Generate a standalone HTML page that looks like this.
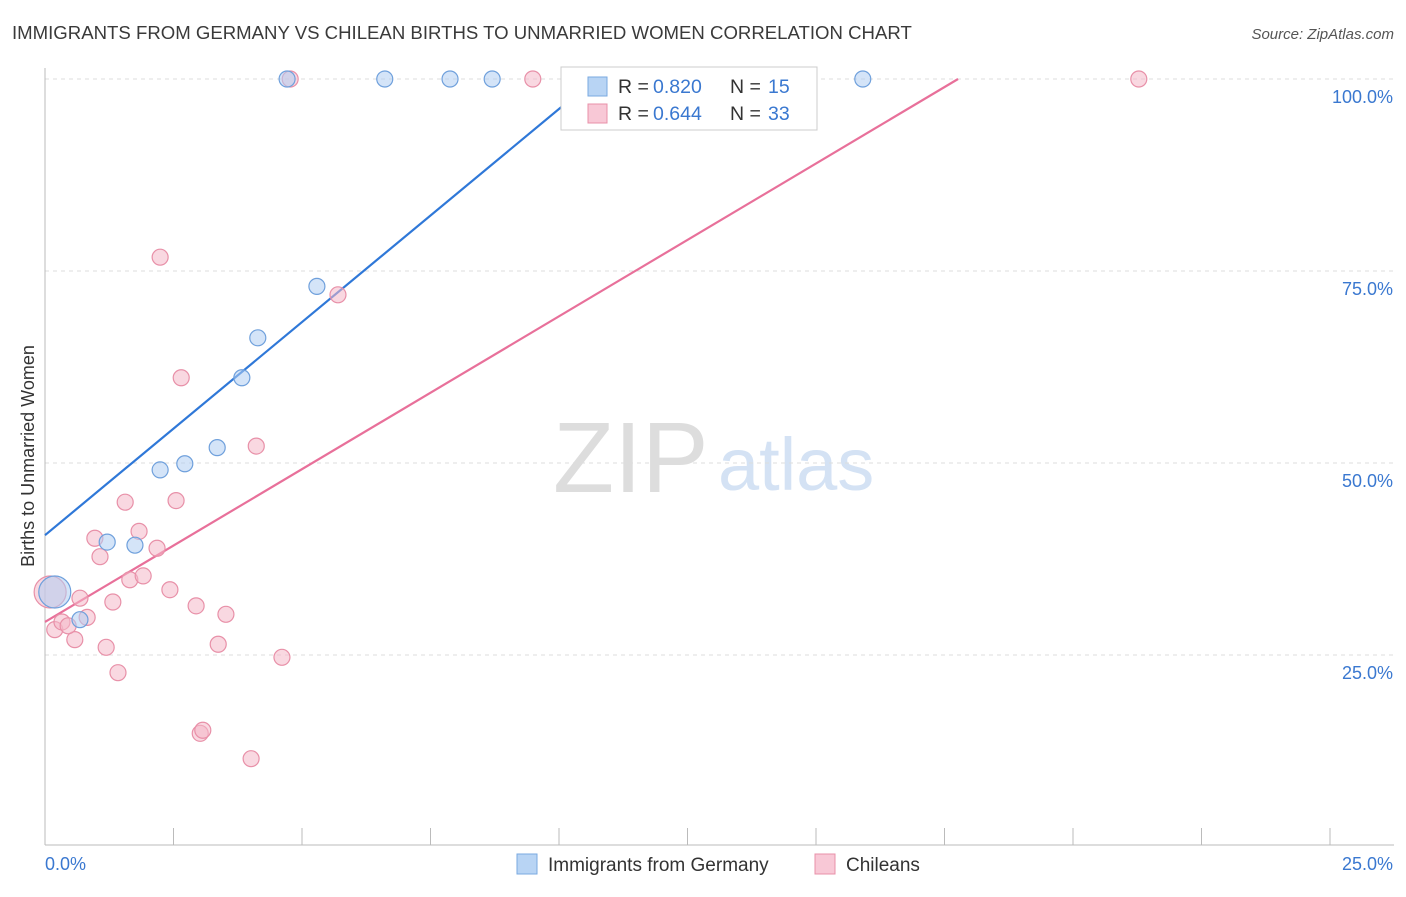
<!DOCTYPE html>
<html><head><meta charset="utf-8"><style>
body{margin:0;background:#fff;font-family:"Liberation Sans",sans-serif;}
svg text{font-family:"Liberation Sans",sans-serif;}
</style></head><body>
<svg id="chart" width="1406" height="892">
<text x="12" y="39" font-size="18.6" fill="#3a3a3a">IMMIGRANTS FROM GERMANY VS CHILEAN BIRTHS TO UNMARRIED WOMEN CORRELATION CHART</text>
<text x="1394" y="39" font-size="15" fill="#555" font-style="italic" text-anchor="end">Source: ZipAtlas.com</text>
<text x="34" y="456" font-size="18" fill="#333" text-anchor="middle" transform="rotate(-90 34 456)">Births to Unmarried Women</text>
<text x="553" y="492" font-size="100" fill="#ddd" font-family="Liberation Serif">ZIP</text>
<text x="718" y="490" font-size="74" fill="#d4e2f4">atlas</text>
<g id="grid"></g><g id="axes"></g><g id="lines"></g><g id="pts"></g>
<g>
<rect x="561" y="67" width="256" height="63" fill="#fff" stroke="#ccc"/>
<rect x="588" y="77" width="19" height="19" fill="#b8d4f4" stroke="#7aaae0"/>
<text x="618" y="93" font-size="19.5" fill="#333">R =</text>
<text x="653" y="93" font-size="19.5" fill="#3a78d0">0.820</text>
<text x="730" y="93" font-size="19.5" fill="#333">N =</text>
<text x="768" y="93" font-size="19.5" fill="#3a78d0">15</text>
<rect x="588" y="104" width="19" height="19" fill="#f8c8d6" stroke="#e890a8"/>
<text x="618" y="120" font-size="19.5" fill="#333">R =</text>
<text x="653" y="120" font-size="19.5" fill="#3a78d0">0.644</text>
<text x="730" y="120" font-size="19.5" fill="#333">N =</text>
<text x="768" y="120" font-size="19.5" fill="#3a78d0">33</text>
</g>
<g>
<rect x="517" y="854" width="20" height="20" fill="#b8d4f4" stroke="#7aaae0"/>
<text x="548" y="871" font-size="19" fill="#333">Immigrants from Germany</text>
<rect x="815" y="854" width="20" height="20" fill="#f8c8d6" stroke="#e890a8"/>
<text x="846" y="871" font-size="19" fill="#333">Chileans</text>
</g>
</svg>
<script>
const blueX=[0.19,0.68,1.21,1.75,2.24,2.72,3.35,3.83,4.14,5.29,4.71,6.61,7.88,8.70,15.91];
const blueY=[33.2,29.6,39.7,39.3,49.1,49.9,52.0,61.1,66.3,73.0,100,100,100,100,100];
const pinkX=[0.10,0.19,0.33,0.58,0.68,0.82,1.07,0.97,1.19,1.32,1.42,1.56,1.65,1.83,1.91,2.18,2.24,2.43,2.55,2.65,2.94,3.02,3.07,3.37,3.52,4.01,4.11,4.61,4.77,5.70,9.49,21.28,0.45];
const pinkY=[33.2,28.3,29.3,27.0,32.4,29.9,37.8,40.2,26.0,31.9,22.7,44.9,34.8,41.1,35.3,38.9,76.8,33.5,45.1,61.1,31.4,14.8,15.2,26.4,30.3,11.5,52.2,24.7,100,71.9,100,100,28.8];
const blueTrend=[40.6,5.55];
const pinkTrend=[29.3,3.98];
const yTicks=[25,50,75,100];
const xTickLabels=["0.0%","25.0%"];
const NS="http://www.w3.org/2000/svg";
const sx=v=>45+v*51.4, sy=v=>847-v*7.68;
function mk(p,t,a){const e=document.createElementNS(NS,t);for(const k in a)e.setAttribute(k,a[k]);document.getElementById(p).appendChild(e);return e;}
yTicks.forEach(t=>{
 const l=mk('grid','line',{x1:45,x2:1394,y1:sy(t),y2:sy(t),stroke:'#ddd','stroke-dasharray':'4 4'});
 
 
 const tx=mk('grid','text',{x:1393,y:sy(t)+24,'font-size':18,fill:'#3a78d0','text-anchor':'end'});
 tx.textContent=t.toFixed(1)+'%';
 
 
});
const ax=mk('axes','line',{x1:45,x2:1394,y1:845,y2:845,stroke:'#bbb'});


const ay=mk('axes','line',{x1:45,x2:45,y1:68,y2:845,stroke:'#bbb'});


for(let i=1;i<=10;i++){const t=mk('axes','line',{x1:sx(i*2.5),x2:sx(i*2.5),y1:828,y2:845,stroke:'#bbb'});
 
 }
const xl0=mk('axes','text',{x:45,y:870,'font-size':18,fill:'#3a78d0'});xl0.textContent=xTickLabels[0];


const xl1=mk('axes','text',{x:1393,y:870,'font-size':18,fill:'#3a78d0','text-anchor':'end'});xl1.textContent=xTickLabels[1];


function trend(tr,col,name){const xe=(100-tr[0])/tr[1];
 const l=mk('lines','line',{x1:sx(0),y1:sy(tr[0]),x2:sx(xe),y2:sy(100),stroke:col,'stroke-width':2.2});
 
 }
trend(blueTrend,'#2f78d8','trend-line-germany');
trend(pinkTrend,'#e8709a','trend-line-chileans');
function pts(X,Y,f,s,name){X.forEach((x,i)=>{const r=i===0?16:8;
 const c=mk('pts','circle',{cx:sx(x),cy:sy(Y[i]),r:r,fill:f,'fill-opacity':0.55,stroke:s,'stroke-width':1.2});
 
 });}
pts(pinkX,pinkY,'#f4b8c8','#e890a8','point-chileans');
pts(blueX,blueY,'#b0cdf2','#6fa0dc','point-germany');
</script>
</body></html>
